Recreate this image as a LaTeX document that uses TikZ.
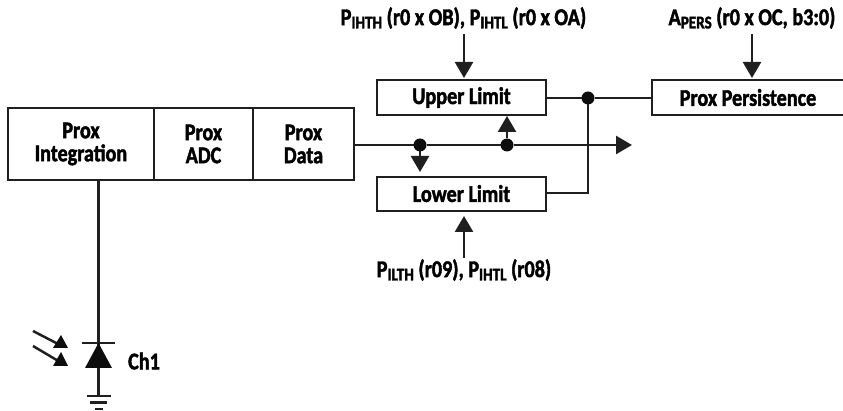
\documentclass[tikz,border=0pt]{standalone}
\usepackage{fontspec}
\setmainfont{Carlito}[FakeStretch=0.84,FakeBold=1.8]
\usetikzlibrary{arrows.meta,calc}
\newcommand{\lowsub}[1]{\raisebox{-0.14em}{\fontsize{18}{19}\selectfont #1}}
\tikzset{
  x=1pt,y=-1pt,
  wire/.style={line width=2.5pt,color=black!88},
  arrowline/.style={wire,-{Triangle[width=18pt,length=16pt]}},
  blk/.style={draw=black!88,line width=2.5pt,fill=white,align=center,inner sep=0pt,outer sep=0pt,
     font=\bfseries\fontsize{24}{23}\selectfont},
  lbl/.style={inner sep=0pt,font=\bfseries\fontsize{24}{23}\selectfont},
  dot/.style={circle,fill=black!95,inner sep=0pt,minimum size=13pt,outer sep=0pt},
  solid tri/.style={fill=black!95,draw=none},
}
\begin{document}
\begin{tikzpicture}
\useasboundingbox (0,0) rectangle (843,411);
% Blocks
\node[blk,minimum width=146pt,minimum height=72pt] (integ) at (81,144) {\raisebox{-1pt}{Prox}\\\raisebox{-1pt}{Integration}};
\node[blk,minimum width=99pt,minimum height=72pt] (adc) at (203.5,144) {\raisebox{-1pt}{Prox}\\\raisebox{-1pt}{ADC}};
\node[blk,minimum width=101pt,minimum height=72pt] (data) at (303.5,144) {\raisebox{-1pt}{Prox}\\\raisebox{-1pt}{Data}};
\node[blk,minimum width=169pt,minimum height=35pt] (upper) at (461.5,97.5) {\raisebox{-1pt}{Upper Limit}};
\node[blk,minimum width=169pt,minimum height=34pt] (lower) at (461.5,194) {\raisebox{1pt}{Lower Limit}};
\node[blk,minimum width=192pt,minimum height=35pt] (pers) at (748,97.5) {\raisebox{-1pt}{Prox Persistence}};
% Labels
\node[lbl] (ltop) at (463.5,18) {P\lowsub{IHTH} (r0 x OB), P\lowsub{IHTL} (r0 x OA)};
\node[lbl] (lper) at (752,18) {A\lowsub{PERS} (r0 x OC, b3:0)};
\node[lbl] (lbot) at (464,270) {P\lowsub{ILTH} (r09), P\lowsub{IHTL} (r08)};
\node[lbl] (ch) at (144,361) {Ch1};
% Junctions and free ends
\node[dot] (j1) at (420,145) {};
\node[dot] (j2) at (507,145) {};
\node[dot] (j3) at (588,98) {};
\coordinate (out) at (632,145);
\coordinate (cross) at (588,193);
\coordinate (t1) at (464,34);
\coordinate (t2) at (752,34);
\coordinate (b1) at (464,258);
% Connectors
\draw[wire] (data.east |- j1) -- (j1);
\draw[wire] (j1) -- (j2);
\draw[arrowline] (j2) -- (out);
\draw[arrowline] (j1) -- (420,172);
\draw[arrowline] (j2) -- (507,116);
\draw[wire] (upper.east |- j3) -- (j3);
\draw[wire] (j3) -- (pers.west |- j3);
\draw[wire] (lower.east |- cross) -- (cross) -- (j3);
\draw[arrowline] (t1) -- (464,78);
\draw[arrowline] (t2) -- (752,78);
\draw[arrowline] (b1) -- (464,216);
% Photodiode
\coordinate (dtop) at (98.5,343);
\coordinate (gnd) at (98.5,396);
\draw[wire] (integ.south -| gnd) -- (gnd);
\draw[wire] (82,343) -- (115,343);
\fill[solid tri] (dtop) -- (112,368) -- (85,368) -- cycle;
\draw[wire] (87,396) -- (111,396);
\draw[wire] (90,402.5) -- (107,402.5);
\draw[wire] (95,409) -- (103,409);
% Light rays
\draw[wire] (33,331) -- (60,345);
\fill[solid tri] (61,335) -- (68,348) -- (53,348) -- cycle;
\draw[wire] (33,346) -- (60,362);
\fill[solid tri] (61,352) -- (68,366) -- (53,366) -- cycle;
\end{tikzpicture}
\end{document}
